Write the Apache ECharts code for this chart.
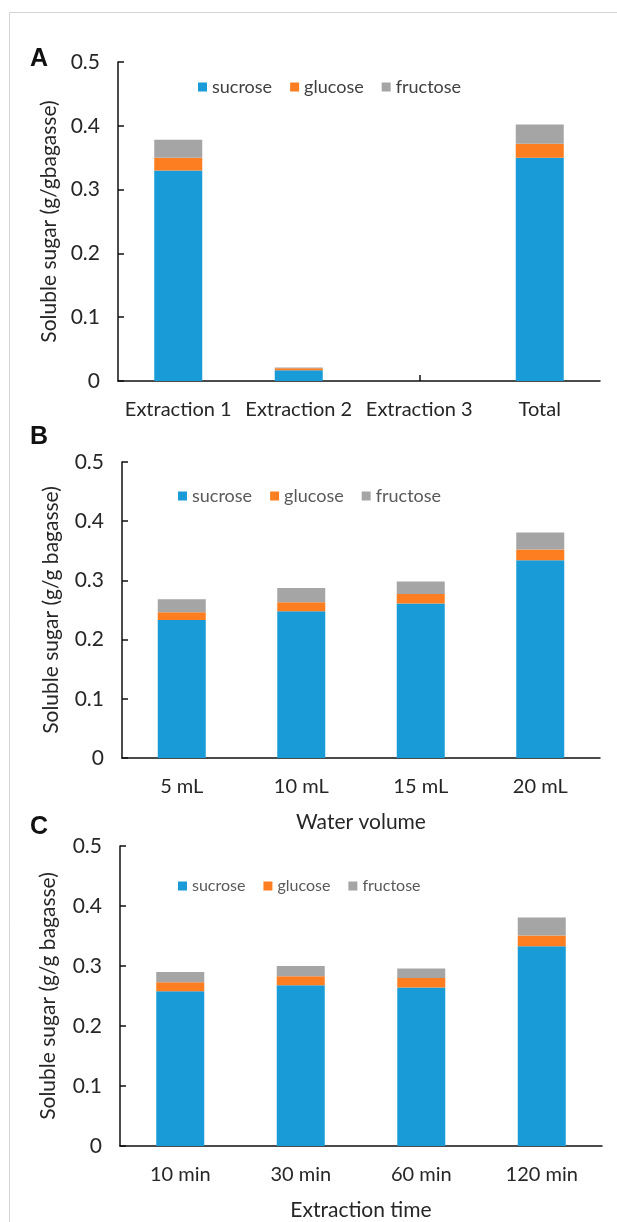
<!DOCTYPE html>
<html>
<head>
<meta charset="utf-8">
<script src="https://cdn.jsdelivr.net/npm/echarts@6/dist/echarts.min.js"></script>
<style>
  html, body { margin: 0; padding: 0; background: #fff; }
  #main { width: 617px; height: 1222px; }
</style>
</head>
<body>
<div id="main"></div>
<script>
// panel A: extraction rounds
var catsA = ['Extraction 1', 'Extraction 2', 'Extraction 3', 'Total'];
var sucroseA = [0.330, 0.017, 0, 0.350];
var glucoseA = [0.020, 0.003, 0, 0.022];
var fructoseA = [0.028, 0.001, 0, 0.030];

// panel B: water volume
var catsB = ['5 mL', '10 mL', '15 mL', '20 mL'];
var sucroseB = [0.233, 0.248, 0.261, 0.334];
var glucoseB = [0.013, 0.015, 0.016, 0.018];
var fructoseB = [0.022, 0.024, 0.021, 0.029];

// panel C: extraction time
var catsC = ['10 min', '30 min', '60 min', '120 min'];
var sucroseC = [0.258, 0.268, 0.264, 0.333];
var glucoseC = [0.015, 0.015, 0.016, 0.018];
var fructoseC = [0.017, 0.017, 0.016, 0.030];

var names = ['sucrose', 'glucose', 'fructose'];
var colors = ['#189bd6', '#fd7e21', '#a5a5a5'];

var chart = echarts.init(document.getElementById('main'));
var font = 'Lato';

function yAxis(idx, gap) {
  return {
    type: 'value', gridIndex: idx, min: 0, max: 0.5, interval: 0.1,
    name: idx === 0 ? 'Soluble sugar (g/gbagasse)' : 'Soluble sugar (g/g bagasse)',
    nameLocation: 'middle', nameGap: gap,
    nameTextStyle: { fontFamily: font, fontSize: 21, color: '#262626' },
    axisLine: { show: true, lineStyle: { color: '#111', width: 1.5 } },
    axisTick: { show: true, inside: true, length: 6, lineStyle: { color: '#111', width: 1.5 } },
    axisLabel: { fontFamily: font, fontSize: 21, color: '#262626', margin: 18 },
    splitLine: { show: false }
  };
}

function xAxis(idx, cats, name, fs) {
  return {
    type: 'category', gridIndex: idx, data: cats,
    name: name, nameLocation: 'middle', nameGap: 54,
    nameTextStyle: { fontFamily: font, fontSize: 21, color: '#262626' },
    axisLine: { lineStyle: { color: '#111', width: 1.5 } },
    axisTick: { show: true, inside: true, alignWithLabel: true, length: 6, lineStyle: { color: '#111', width: 1.5 } },
    axisLabel: { fontFamily: font, fontSize: fs, color: '#262626', margin: 19, interval: 0 }
  };
}

function legend(left, top, fs, col) {
  return {
    left: left, top: top, data: names, icon: 'rect',
    itemWidth: 9, itemHeight: 9, itemGap: 18,
    textStyle: { fontFamily: font, fontSize: fs, color: col }
  };
}

var series = [];
[[sucroseA, glucoseA, fructoseA], [sucroseB, glucoseB, fructoseB], [sucroseC, glucoseC, fructoseC]]
  .forEach(function (set, g) {
    set.forEach(function (vals, i) {
      series.push({
        name: names[i], type: 'bar', stack: 's' + g,
        xAxisIndex: g, yAxisIndex: g, barWidth: 48,
        itemStyle: { color: colors[i] },
        data: vals
      });
    });
  });

var titleStyle = { fontFamily: 'Liberation Sans', fontWeight: 'bold', fontSize: 25, color: '#111' };

var option = {
  animation: false,
  backgroundColor: '#fff',
  title: [
    { text: 'A', left: 25, top: 42, textStyle: titleStyle },
    { text: 'B', left: 25, top: 420, textStyle: titleStyle },
    { text: 'C', left: 25, top: 810, textStyle: titleStyle }
  ],
  graphic: [
    { type: 'rect', shape: { x: 9.5, y: 12.5, width: 700, height: 1300 }, style: { fill: 'none', stroke: '#d4d4d4', lineWidth: 1 } }
  ],
  legend: [
    legend(193, 73, 18, '#404040'),
    legend(173, 482, 18, '#595959'),
    legend(173, 873, 16, '#595959')
  ],
  grid: [
    { left: 118, top: 62, width: 482, height: 319 },
    { left: 122, top: 462, width: 478, height: 296 },
    { left: 120, top: 846, width: 482, height: 302 }
  ],
  xAxis: [
    xAxis(0, catsA, '', 20),
    xAxis(1, catsB, 'Water volume', 20),
    xAxis(2, catsC, 'Extraction time', 20)
  ],
  yAxis: [yAxis(0, 58), yAxis(1, 60), yAxis(2, 61)],
  series: series
};

chart.setOption(option);
</script>
</body>
</html>
